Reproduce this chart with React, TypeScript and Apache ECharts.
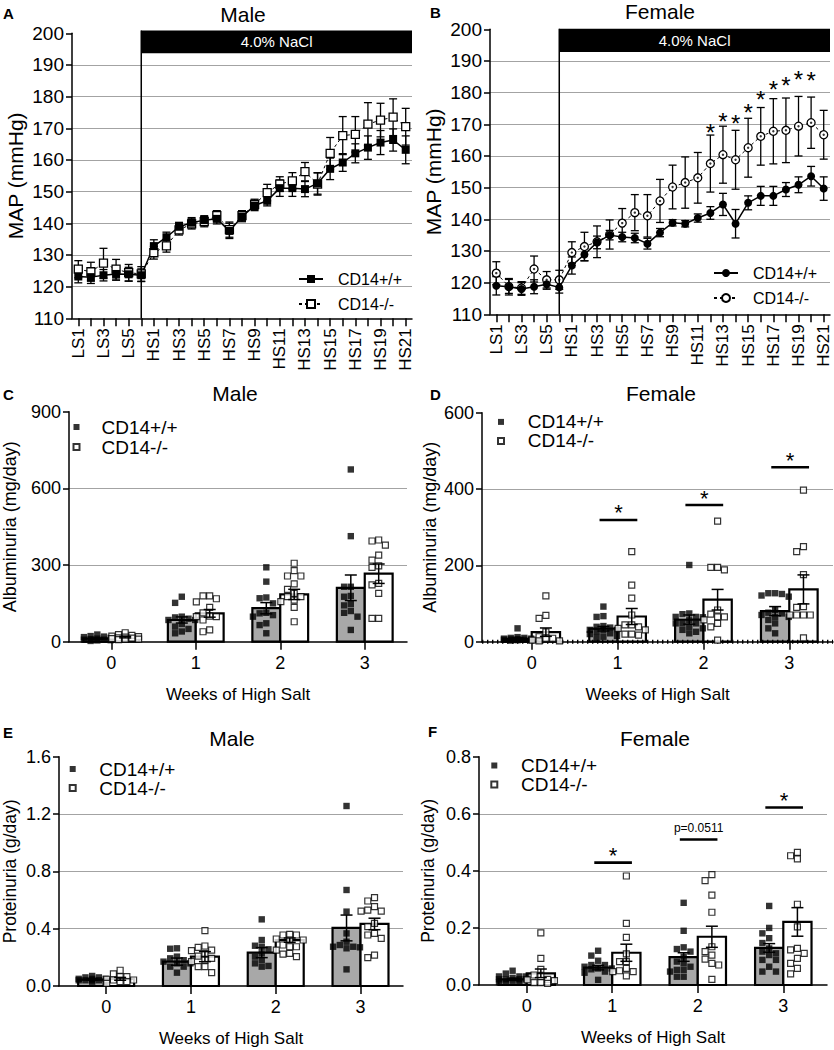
import React, { useEffect, useRef } from "react";
import * as echarts from "echarts";

const FONT = '"Liberation Sans", Arial, Helvetica, sans-serif';

// ---------------- Panels A / B : daily MAP ----------------
const dayLabels = [
  "LS1", "LS2", "LS3", "LS4", "LS5", "LS6",
  "HS1", "HS2", "HS3", "HS4", "HS5", "HS6", "HS7", "HS8", "HS9", "HS10",
  "HS11", "HS12", "HS13", "HS14", "HS15", "HS16", "HS17", "HS18", "HS19", "HS20", "HS21",
];
const saltStartLabel = "LS6";
const saltText = "4.0% NaCl";

const aWtMean = [123.2, 123.0, 123.6, 124.0, 123.9, 123.6, 132.8, 135.6, 138.9, 140.2, 141.0, 141.4, 137.6, 142.1, 145.6, 147.1, 151.1, 151.1, 150.8, 152.6, 157.2, 159.2, 162.1, 163.9, 165.5, 166.3, 163.2];
const aWtSem = [2.0, 2.0, 1.8, 2.0, 2.2, 2.0, 2.0, 1.6, 1.4, 1.6, 1.4, 1.6, 2.4, 1.6, 1.6, 1.6, 2.6, 2.6, 2.4, 3.4, 3.4, 2.8, 3.0, 3.7, 3.8, 3.5, 4.4];
const aKoMean = [125.5, 124.7, 127.4, 125.5, 124.4, 124.0, 130.7, 132.9, 137.9, 139.8, 140.5, 142.4, 138.0, 142.4, 146.0, 149.7, 152.4, 153.4, 156.3, 152.4, 162.1, 167.7, 168.1, 171.3, 172.6, 173.5, 170.5];
const aKoSem = [2.7, 3.0, 4.7, 3.1, 2.6, 2.3, 2.0, 2.0, 1.6, 1.6, 1.6, 1.6, 2.4, 1.6, 1.6, 2.6, 2.3, 2.6, 2.9, 3.5, 5.0, 6.0, 5.6, 6.8, 5.3, 5.8, 5.8];

const bWtMean = [119.0, 118.7, 118.0, 118.7, 119.5, 118.5, 125.4, 128.9, 132.7, 135.0, 134.4, 134.1, 132.3, 135.8, 138.9, 138.6, 140.4, 142.0, 144.7, 138.6, 145.2, 147.4, 147.4, 149.4, 150.9, 153.6, 149.7];
const bWtSem = [2.9, 2.6, 2.0, 2.2, 1.6, 1.8, 2.7, 2.0, 2.0, 1.5, 1.5, 1.5, 1.7, 1.3, 1.0, 1.0, 1.3, 2.0, 3.5, 4.5, 2.2, 3.0, 3.0, 2.2, 2.5, 3.1, 3.7];
const bKoMean = [123.0, 118.8, 118.3, 124.3, 120.9, 120.9, 129.5, 131.4, 132.9, 135.2, 138.8, 142.1, 141.1, 145.8, 150.2, 151.6, 153.1, 157.6, 160.4, 158.8, 162.6, 166.2, 167.8, 168.1, 169.4, 170.5, 166.7];
const bKoSem = [3.6, 2.2, 2.0, 4.1, 2.6, 3.0, 3.4, 4.5, 5.0, 4.6, 4.6, 5.7, 6.7, 6.8, 6.9, 8.1, 8.0, 9.0, 9.0, 9.3, 9.3, 9.1, 10.3, 10.2, 9.4, 8.1, 7.7];
const bStarDays = ["HS12", "HS13", "HS14", "HS15", "HS16", "HS17", "HS18", "HS19", "HS20"];
const bStarLevel = [169.4, 172.8, 172.3, 175.7, 179.7, 182.8, 184.2, 186.0, 185.7];

// ---------------- Panels C-F : weekly urine ----------------
const weeks = [0, 1, 2, 3];

const cWtMean = [12, 85, 131, 211];
const cWtSem = [2, 12, 22, 50];
const cKoMean = [18, 111, 185, 266];
const cKoSem = [3, 15, 20, 38];
const cWtPts = [
  [28, 22, 20, 18, 15, 12, 10, 8, 6, 5, 3, 8],
  [176, 152, 98, 95, 90, 85, 69, 59, 50, 33, 85, 40],
  [291, 235, 173, 170, 150, 113, 111, 98, 104, 72, 65, 33],
  [674, 413, 215, 215, 179, 176, 147, 142, 113, 98, 46, 120],
];
const cKoPts = [
  [35, 28, 25, 22, 20, 18, 15, 12, 10, 8, 14, 10],
  [179, 179, 168, 156, 134, 113, 100, 98, 98, 46, 39, 85],
  [307, 278, 257, 257, 226, 205, 189, 176, 176, 163, 157, 134, 78],
  [398, 394, 378, 339, 319, 291, 297, 228, 222, 189, 91, 91],
];

const dWtMean = [7, 34, 58, 80];
const dWtSem = [3, 6, 12, 12];
const dKoMean = [25, 66, 110, 137];
const dKoSem = [11, 21, 27, 38];
const dWtPts = [
  [35, 12, 10, 8, 6, 5, 4, 3, 10, 8, 5, 7, 4],
  [92, 67, 65, 30, 41, 39, 31, 31, 26, 22, 13, 37, 20, 10, 15],
  [201, 72, 74, 65, 64, 57, 48, 48, 39, 35, 26, 48, 65, 31, 22],
  [127, 121, 127, 118, 125, 83, 76, 70, 65, 48, 35, 22, 74, 65, 57],
];
const dKoPts = [
  [120, 69, 61, 26, 9, 2, 2, 4, 9, 13],
  [236, 148, 114, 70, 44, 44, 39, 35, 31, 20, 20, 17],
  [316, 195, 188, 195, 83, 65, 72, 48, 39, 4, 57, 65],
  [397, 249, 236, 176, 92, 70, 70, 90, 70, 70, 10],
];
const dSigWeeks = [1, 2, 3];
const dSigLevel = [319, 358, 457];
const dSigText = ["*", "*", "*"];

const eWtMean = [0.045, 0.17, 0.233, 0.405];
const eWtSem = [0.005, 0.025, 0.035, 0.09];
const eKoMean = [0.05, 0.205, 0.32, 0.433];
const eKoSem = [0.01, 0.035, 0.015, 0.04];
const eWtPts = [
  [0.07, 0.06, 0.05, 0.05, 0.04, 0.04, 0.04, 0.03, 0.03, 0.05, 0.06, 0.04],
  [0.263, 0.26, 0.205, 0.193, 0.158, 0.158, 0.135, 0.135, 0.093, 0.17, 0.18],
  [0.465, 0.321, 0.281, 0.274, 0.256, 0.228, 0.181, 0.158, 0.14, 0.135, 0.205],
  [1.256, 0.67, 0.519, 0.367, 0.274, 0.274, 0.27, 0.286, 0.309, 0.116, 0.263],
];
const eKoPts = [
  [0.11, 0.084, 0.065, 0.047, 0.042, 0.03, 0.019, 0.03, 0.065, 0.042],
  [0.386, 0.279, 0.27, 0.251, 0.247, 0.228, 0.209, 0.193, 0.17, 0.135, 0.135, 0.093, 0.181],
  [0.356, 0.36, 0.356, 0.321, 0.328, 0.321, 0.286, 0.274, 0.274, 0.251, 0.228, 0.223, 0.205],
  [0.616, 0.593, 0.554, 0.53, 0.523, 0.523, 0.437, 0.367, 0.356, 0.333, 0.216, 0.198, 0.414],
];

const fWtMean = [0.02, 0.061, 0.098, 0.13];
const fWtSem = [0.004, 0.008, 0.015, 0.015];
const fKoMean = [0.041, 0.113, 0.169, 0.221];
const fKoSem = [0.015, 0.03, 0.037, 0.05];
const fWtPts = [
  [0.05, 0.04, 0.03, 0.03, 0.02, 0.02, 0.02, 0.015, 0.01, 0.01, 0.03, 0.02, 0.025, 0.01],
  [0.12, 0.103, 0.085, 0.07, 0.058, 0.058, 0.055, 0.043, 0.018, 0.07, 0.064, 0.047],
  [0.288, 0.19, 0.126, 0.117, 0.132, 0.099, 0.082, 0.076, 0.053, 0.047, 0.053, 0.029, 0.029, 0.064],
  [0.277, 0.2, 0.181, 0.164, 0.147, 0.128, 0.117, 0.105, 0.088, 0.088, 0.064, 0.047, 0.047, 0.111],
];
const fKoPts = [
  [0.183, 0.093, 0.055, 0.02, 0.018, 0.008, 0.006, 0.015, 0.008, 0.035, 0.029],
  [0.382, 0.216, 0.167, 0.109, 0.082, 0.082, 0.058, 0.047, 0.047, 0.032, 0.05],
  [0.387, 0.366, 0.315, 0.255, 0.134, 0.117, 0.105, 0.091, 0.076, 0.07, 0.02],
  [0.453, 0.442, 0.465, 0.283, 0.204, 0.128, 0.123, 0.093, 0.076, 0.111, 0.058, 0.039],
];
const fSigWeeks = [1, 2, 3];
const fSigLevel = [0.4287, 0.51, 0.622];
const fSigText = ["*", "p=0.0511", "*"];

const seriesNames: Record<string, string> = {
  A_wt: "CD14+/+", A_ko: "CD14-/-", B_wt: "CD14+/+", B_ko: "CD14-/-",
  C_wt: "CD14+/+", C_ko: "CD14-/-", D_wt: "CD14+/+", D_ko: "CD14-/-",
  E_wt: "CD14+/+", E_ko: "CD14-/-", F_wt: "CD14+/+", F_ko: "CD14-/-",
};

// ---------------- layout / styling ----------------
const GRAY = "#a8a8a8";
const GRID_GRAY = "#a3a3a3";
const AX = { color: "#000", width: 1.5 };
const BAR_W = 0.33;
const HALF = BAR_W / 2;

const LINE_PANELS = [
  {
    key: "A", grid: { left: 72, top: 33.3, width: 340, height: 285 },
    wtMean: aWtMean, wtSem: aWtSem, koMean: aKoMean, koSem: aKoSem,
    symbol: "rect", dot: false, barTop: 200.9, barBottom: 193.7, nameGap: 46,
    legend: { left: 298, top: 266.5 }, stars: null as any,
  },
  {
    key: "B", grid: { left: 490, top: 29.3, width: 340, height: 285 },
    wtMean: bWtMean, wtSem: bWtSem, koMean: bKoMean, koSem: bKoSem,
    symbol: "circle", dot: true, barTop: 200.2, barBottom: 192.8, nameGap: 46,
    legend: { left: 713, top: 260.5 }, stars: { days: bStarDays, level: bStarLevel },
  },
];

const BAR_PANELS = [
  {
    key: "C", grid: { left: 63, top: 411.7, width: 344, height: 230 }, xMin: -0.5, xMax: 3.5,
    yMax: 900, yInterval: 300, yName: "Albuminuria (mg/day)", nameGap: 50, nameSize: 18, fmt: null as any,
    wtMean: cWtMean, wtSem: cWtSem, koMean: cKoMean, koSem: cKoSem, wtPts: cWtPts, koPts: cKoPts,
    legend: { left: 72.5, top: 417, lh: 20, pad: 17 }, sig: null as any, dotted: false,
  },
  {
    key: "D", grid: { left: 482, top: 412.7, width: 351, height: 229 }, xMin: -0.579, xMax: 3.509,
    yMax: 600, yInterval: 200, yName: "Albuminuria (mg/day)", nameGap: 43, nameSize: 18, fmt: null as any,
    wtMean: dWtMean, wtSem: dWtSem, koMean: dKoMean, koSem: dKoSem, wtPts: dWtPts, koPts: dKoPts,
    legend: { left: 497, top: 412.4, lh: 16.6, pad: 18.7 },
    sig: { weeks: dSigWeeks, level: dSigLevel, text: dSigText }, dotted: true,
  },
  {
    key: "E", grid: { left: 55, top: 756.7, width: 348, height: 229.3 }, xMin: -0.556, xMax: 3.501,
    yMax: 1.6, yInterval: 0.4, yName: "Proteinuria (g/day)", nameGap: 40, nameSize: 17.5,
    fmt: (v: number) => v.toFixed(1),
    wtMean: eWtMean, wtSem: eWtSem, koMean: eKoMean, koSem: eKoSem, wtPts: eWtPts, koPts: eKoPts,
    legend: { left: 68.7, top: 759.5, lh: 16.3, pad: 18.6 }, sig: null as any, dotted: false,
  },
  {
    key: "F", grid: { left: 479, top: 756.7, width: 348, height: 228.3 }, xMin: -0.558, xMax: 3.511,
    yMax: 0.8, yInterval: 0.2, yName: "Proteinuria (g/day)", nameGap: 42, nameSize: 17.5,
    fmt: (v: number) => v.toFixed(1),
    wtMean: fWtMean, wtSem: fWtSem, koMean: fKoMean, koSem: fKoSem, wtPts: fWtPts, koPts: fKoPts,
    legend: { left: 490.3, top: 756, lh: 16.7, pad: 18.7 },
    sig: { weeks: fSigWeeks, level: fSigLevel, text: fSigText }, dotted: false,
  },
];

const TITLES = [
  { text: "Male", x: 243, y: 14 }, { text: "Female", x: 660, y: 11 },
  { text: "Male", x: 235, y: 393 }, { text: "Female", x: 661, y: 393 },
  { text: "Male", x: 232, y: 738 }, { text: "Female", x: 655, y: 738 },
];
const LETTERS = [
  { text: "A", x: 3, y: 13 }, { text: "B", x: 430, y: 12 },
  { text: "C", x: 3, y: 394 }, { text: "D", x: 430, y: 394 },
  { text: "E", x: 3, y: 732 }, { text: "F", x: 428, y: 731 },
];

// beeswarm placement of individual points (deterministic layout)
function swarm(vals: number[], cx: number, pxX: number, pxY: number): number[][] {
  const stepU = 6.8 / pxX;
  const thrU = 6.4 / pxY;
  const order = vals.map((_, i) => i).sort((a, b) => vals[b] - vals[a]);
  const placed: { k: number; v: number }[] = [];
  const slots = [0, -1, 1, -2, 2];
  const out: number[][] = [];
  for (const i of order) {
    const v = vals[i];
    let best = 0;
    let bestScore = -1;
    for (const k of slots) {
      let minD = Infinity;
      for (const p of placed) if (p.k === k) minD = Math.min(minD, Math.abs(p.v - v));
      if (minD >= thrU) { best = k; bestScore = Infinity; break; }
      if (minD > bestScore) { bestScore = minD; best = k; }
    }
    placed.push({ k: best, v });
    out.push([cx + best * stepU, v]);
  }
  return out;
}

function textStyle(text: string, x: number, y: number, size: number, fill = "#000", weight = "normal") {
  return {
    text, x, y, fill, fontSize: size, fontFamily: FONT, fontWeight: weight,
    align: "center", verticalAlign: "middle", textAlign: "center", textVerticalAlign: "middle",
  };
}

function yAxis(gi: number, min: number, max: number, interval: number, name: string, nameGap: number,
  nameSize: number, labelSize: number, fmt: any) {
  return {
    type: "value", gridIndex: gi, min, max, interval,
    name, nameLocation: "middle", nameGap, nameRotate: 90,
    nameTextStyle: { fontFamily: FONT, fontSize: nameSize, color: "#000" },
    axisLine: { show: true, onZero: false, lineStyle: AX },
    axisTick: { show: true, length: 6, lineStyle: AX },
    axisLabel: { fontFamily: FONT, fontSize: labelSize, color: "#000", margin: 8, formatter: fmt || undefined },
    splitLine: { show: true, showMinLine: false, showMaxLine: false, lineStyle: { color: GRID_GRAY, width: 1.2 } },
  };
}

function errSeries(gi: number, data: number[][], capW: number, lw: number, z: number) {
  return {
    type: "custom", xAxisIndex: gi, yAxisIndex: gi, z, silent: true, data,
    renderItem: (_p: any, api: any) => {
      const x = api.value(0), m = api.value(1), s = api.value(2);
      const t = api.coord([x, m + s]);
      const b = api.coord([x, m - s]);
      const st = { stroke: "#000", lineWidth: lw };
      return {
        type: "group",
        children: [
          { type: "line", shape: { x1: t[0], y1: t[1], x2: b[0], y2: b[1] }, style: st },
          { type: "line", shape: { x1: t[0] - capW / 2, y1: t[1], x2: t[0] + capW / 2, y2: t[1] }, style: st },
          { type: "line", shape: { x1: b[0] - capW / 2, y1: b[1], x2: b[0] + capW / 2, y2: b[1] }, style: st },
        ],
      };
    },
  };
}

function barSeries(gi: number, means: number[], side: number, fill: string) {
  return {
    type: "custom", xAxisIndex: gi, yAxisIndex: gi, z: 1, silent: true,
    data: means.map((m, w) => [w, m]),
    renderItem: (_p: any, api: any) => {
      const w = api.value(0), m = api.value(1);
      const x0 = side < 0 ? w - BAR_W : w;
      const x1 = side < 0 ? w : w + BAR_W;
      const p0 = api.coord([x0, 0]);
      const p1 = api.coord([x1, m]);
      return {
        type: "rect",
        shape: { x: p0[0], y: p1[1], width: p1[0] - p0[0], height: p0[1] - p1[1] },
        style: { fill, stroke: "#000", lineWidth: 2.2 },
      };
    },
  };
}

function buildOption() {
  const grids: any[] = [], xAxes: any[] = [], yAxes: any[] = [], series: any[] = [], legends: any[] = [];
  const graphics: any[] = [];

  LINE_PANELS.forEach((p) => {
    const gi = grids.length;
    grids.push({ ...p.grid });
    xAxes.push({
      type: "category", gridIndex: gi, data: dayLabels, boundaryGap: true,
      axisLine: { show: true, onZero: false, lineStyle: AX },
      axisTick: { show: true, alignWithLabel: true, interval: 0, length: 8, lineStyle: AX },
      axisLabel: { interval: 1, rotate: 90, fontSize: 17, fontFamily: FONT, color: "#000", margin: 10 },
      splitLine: { show: false },
    });
    yAxes.push(yAxis(gi, 110, 200, 10, "MAP (mmHg)", p.nameGap, 21, 19, null));
    const saltIdx = dayLabels.indexOf(saltStartLabel);
    series.push({
      type: "custom", xAxisIndex: gi, yAxisIndex: gi, z: 6, silent: true, data: [[saltIdx, 110]],
      renderItem: (_q: any, api: any) => {
        const i0 = api.value(0);
        const tl = api.coord([i0, p.barTop]);
        const bl = api.coord([i0, p.barBottom]);
        const base = api.coord([i0, api.value(1)]);
        const last = api.coord([dayLabels.length - 1, p.barTop]);
        const xr = last[0] + api.size([1, 0])[0] / 2;
        return {
          type: "group",
          children: [
            { type: "rect", shape: { x: tl[0], y: tl[1], width: xr - tl[0], height: bl[1] - tl[1] }, style: { fill: "#000" } },
            { type: "line", shape: { x1: tl[0], y1: tl[1], x2: base[0], y2: base[1] }, style: { stroke: "#000", lineWidth: 1.5 } },
            { type: "text", style: textStyle(saltText, (tl[0] + xr) / 2, (tl[1] + bl[1]) / 2, 15, "#fff") },
          ],
        };
      },
    });
    series.push(errSeries(gi, p.koMean.map((m, i) => [i, m, p.koSem[i]]), 8, 1.3, 3));
    series.push(errSeries(gi, p.wtMean.map((m, i) => [i, m, p.wtSem[i]]), 8, 1.3, 3));
    series.push({
      type: "line", name: p.key + "_ko", xAxisIndex: gi, yAxisIndex: gi, data: p.koMean,
      symbol: p.symbol, symbolSize: 8, showAllSymbol: true, z: 4, silent: true,
      lineStyle: { color: "#000", width: 1, type: [3, 3] },
      itemStyle: { color: "#fff", borderColor: "#000", borderWidth: 1.3 },
    });
    series.push({
      type: "line", name: p.key + "_wt", xAxisIndex: gi, yAxisIndex: gi, data: p.wtMean,
      symbol: p.symbol, symbolSize: 8, showAllSymbol: true, z: 4, silent: true,
      lineStyle: { color: "#000", width: 1.5 },
      itemStyle: { color: "#000" },
    });
    if (p.dot) {
      series.push({
        type: "scatter", xAxisIndex: gi, yAxisIndex: gi, z: 5, silent: true,
        data: p.koMean.map((m, i) => [i, m]), symbol: "circle", symbolSize: 2.4, itemStyle: { color: "#000" },
      });
    }
    if (p.stars) {
      const st = p.stars;
      series.push({
        type: "custom", xAxisIndex: gi, yAxisIndex: gi, z: 6, silent: true,
        data: st.days.map((d: string, k: number) => [dayLabels.indexOf(d), st.level[k]]),
        renderItem: (_q: any, api: any) => {
          const c = api.coord([api.value(0), api.value(1)]);
          return { type: "text", style: textStyle("*", c[0], c[1] + 6, 24) };
        },
      });
    }
    legends.push({
      data: [p.key + "_wt", p.key + "_ko"], orient: "vertical", left: p.legend.left, top: p.legend.top,
      padding: 0, itemGap: 0, itemWidth: 24, itemHeight: 10, selectedMode: false,
      formatter: (n: string) => seriesNames[n],
      textStyle: { fontSize: 16, fontFamily: FONT, color: "#000", lineHeight: 25, padding: [0, 0, 0, 10] },
    });
  });

  BAR_PANELS.forEach((p) => {
    const gi = grids.length;
    grids.push({ ...p.grid });
    xAxes.push({
      type: "value", gridIndex: gi, min: p.xMin, max: p.xMax,
      name: "Weeks of High Salt", nameLocation: "middle", nameGap: 44,
      nameTextStyle: { fontSize: 17, fontFamily: FONT, color: "#000" },
      axisLine: { show: true, onZero: false, lineStyle: AX },
      axisTick: { show: true, length: 8, lineStyle: AX, customValues: weeks },
      axisLabel: { customValues: weeks, fontSize: 18, fontFamily: FONT, color: "#000", margin: 12 },
      splitLine: { show: false },
    });
    yAxes.push(yAxis(gi, 0, p.yMax, p.yInterval, p.yName, p.nameGap, p.nameSize, 18, p.fmt));
    const pxX = p.grid.width / (p.xMax - p.xMin);
    const pxY = p.grid.height / p.yMax;
    series.push(barSeries(gi, p.wtMean, -1, GRAY));
    series.push(barSeries(gi, p.koMean, 1, "#fff"));
    if (p.dotted) {
      series.push({
        type: "custom", xAxisIndex: gi, yAxisIndex: gi, z: 2, silent: true, data: [[p.xMin, 0, p.xMax]],
        renderItem: (_q: any, api: any) => {
          const a = api.coord([api.value(0), api.value(1)]);
          const b = api.coord([api.value(2), api.value(1)]);
          return { type: "line", shape: { x1: a[0], y1: a[1], x2: b[0], y2: b[1] }, style: { stroke: "#000", lineWidth: 4, lineDash: [1.4, 3.6] } };
        },
      });
    }
    const wtData = weeks.flatMap((w) => swarm(p.wtPts[w], w - HALF, pxX, pxY));
    const koData = weeks.flatMap((w) => swarm(p.koPts[w], w + HALF, pxX, pxY));
    series.push({
      type: "scatter", name: p.key + "_wt", xAxisIndex: gi, yAxisIndex: gi, data: wtData,
      symbol: "rect", symbolSize: 6.4, z: 3, silent: true, itemStyle: { color: "#000" },
    });
    series.push({
      type: "scatter", name: p.key + "_ko", xAxisIndex: gi, yAxisIndex: gi, data: koData,
      symbol: "rect", symbolSize: 6, z: 3, silent: true,
      itemStyle: { color: "#fff", borderColor: "#000", borderWidth: 1.2 },
    });
    series.push(errSeries(gi, weeks.map((w) => [w - HALF, p.wtMean[w], p.wtSem[w]]), 12, 1.5, 4));
    series.push(errSeries(gi, weeks.map((w) => [w + HALF, p.koMean[w], p.koSem[w]]), 12, 1.5, 4));
    if (p.sig) {
      const sg = p.sig;
      series.push({
        type: "custom", xAxisIndex: gi, yAxisIndex: gi, z: 6, silent: true,
        data: sg.weeks.map((w: number, k: number) => [w, sg.level[k], k]),
        renderItem: (_q: any, api: any) => {
          const w = api.value(0), lv = api.value(1), k = api.value(2);
          const a = api.coord([w - 0.21, lv]);
          const b = api.coord([w + 0.23, lv]);
          const label = sg.text[k];
          const isStar = label === "*";
          const cx = (a[0] + b[0]) / 2;
          return {
            type: "group",
            children: [
              { type: "line", shape: { x1: a[0], y1: a[1], x2: b[0], y2: b[1] }, style: { stroke: "#000", lineWidth: 2.6 } },
              { type: "text", style: textStyle(label, cx, isStar ? a[1] - 7 : a[1] - 11, isStar ? 22 : 12) },
            ],
          };
        },
      });
    }
    legends.push({
      data: [p.key + "_wt", p.key + "_ko"], orient: "vertical", left: p.legend.left, top: p.legend.top,
      padding: 0, itemGap: 0, itemWidth: 6, itemHeight: 6, selectedMode: false,
      formatter: (n: string) => seriesNames[n],
      textStyle: { fontSize: 19, fontFamily: FONT, color: "#000", lineHeight: p.legend.lh, padding: [0, 0, 0, p.legend.pad] },
    });
  });

  TITLES.forEach((t) => graphics.push({ type: "text", x: 0, y: 0, silent: true, style: textStyle(t.text, t.x, t.y, 21) }));
  LETTERS.forEach((t) =>
    graphics.push({
      type: "text", x: 0, y: 0, silent: true,
      style: { text: t.text, x: t.x, y: t.y, fill: "#000", fontSize: 15, fontWeight: "bold", fontFamily: FONT,
        align: "left", verticalAlign: "middle", textAlign: "left", textVerticalAlign: "middle" },
    })
  );

  return {
    animation: false,
    backgroundColor: "#fff",
    textStyle: { fontFamily: FONT },
    grid: grids,
    xAxis: xAxes,
    yAxis: yAxes,
    legend: legends,
    series,
    graphic: { elements: graphics },
  };
}

export default function App() {
  const ref = useRef<HTMLDivElement | null>(null);
  useEffect(() => {
    const prev = document.body.style.margin;
    document.body.style.margin = "0";
    const chart = echarts.init(ref.current as HTMLDivElement, undefined, { renderer: "svg" });
    chart.setOption(buildOption() as any);
    return () => {
      chart.dispose();
      document.body.style.margin = prev;
    };
  }, []);
  return <div ref={ref} style={{ width: 834, height: 1050 }} />;
}
